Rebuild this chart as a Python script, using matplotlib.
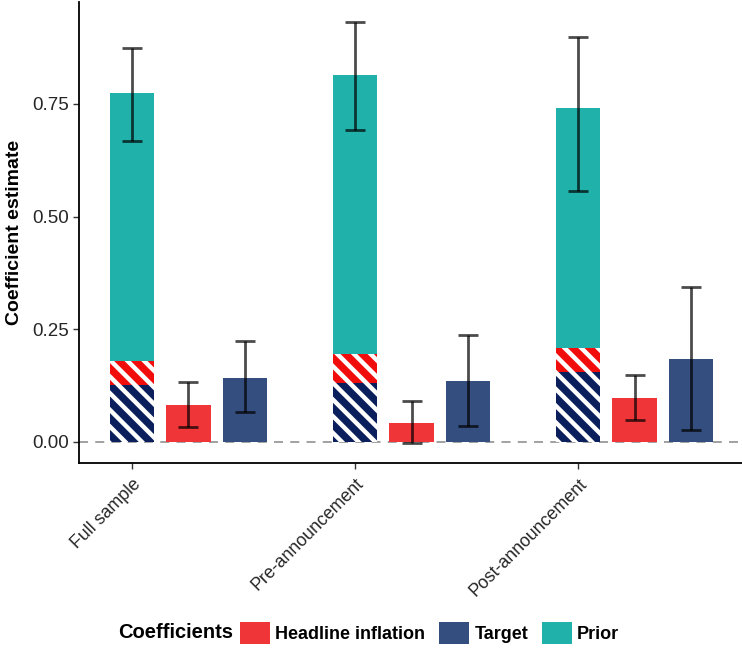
import matplotlib
matplotlib.use("Agg")
import matplotlib.pyplot as plt
import numpy as np
from matplotlib.patches import Patch

plt.rcParams['font.family'] = ['Liberation Sans', 'DejaVu Sans']
plt.rcParams['hatch.linewidth'] = 3.2

categories = ["Full sample", "Pre-announcement", "Post-announcement"]

# stacked bar components (cumulative tops)
stack_target = [0.126, 0.130, 0.155]
stack_headline = [0.054, 0.065, 0.053]
stack_prior = [0.595, 0.619, 0.532]
prior_lo = [0.668, 0.692, 0.557]
prior_hi = [0.873, 0.931, 0.898]

# separate bars
headline = [0.082, 0.043, 0.098]
headline_lo = [0.033, -0.003, 0.048]
headline_hi = [0.132, 0.092, 0.149]
target = [0.143, 0.135, 0.184]
target_lo = [0.066, 0.035, 0.027]
target_hi = [0.225, 0.237, 0.343]

yticks = [0.00, 0.25, 0.50, 0.75]
ytick_labels = ["0.00", "0.25", "0.50", "0.75"]

c_red = "#F03538"
c_navy = "#344E80"
c_teal = "#20B2AA"
c_hnavy = "#0A1F5C"
c_hred = "#F20D0D"

fig = plt.figure(figsize=(7.42, 6.48), dpi=100)
ax = fig.add_axes([79 / 742, 1 - 463 / 648, 1 - 79 / 742, (463 - 2) / 648])

x = np.arange(len(categories))
w = 0.2
off_r = 0.253
off_n = 0.506

ax.axhline(0, color="#9a9a9a", lw=1.3, ls=(0, (5, 4)), zorder=1)

ax.bar(x, stack_target, w, color=c_hnavy, edgecolor="white", hatch="\\\\", linewidth=0, zorder=2)
ax.bar(x, stack_headline, w, bottom=stack_target, color=c_hred, edgecolor="white", hatch="\\\\", linewidth=0, zorder=2)
bot2 = np.array(stack_target) + np.array(stack_headline)
ax.bar(x, stack_prior, w, bottom=bot2, color=c_teal, linewidth=0, zorder=2)
ptop = bot2 + np.array(stack_prior)

ax.bar(x + off_r, headline, w, color=c_red, linewidth=0, zorder=2)
ax.bar(x + off_n, target, w, color=c_navy, linewidth=0, zorder=2)

ekw = dict(fmt="none", ecolor="black", alpha=0.7, elinewidth=2, capsize=7.5, capthick=2, zorder=3)
ax.errorbar(x, ptop, yerr=[ptop - np.array(prior_lo), np.array(prior_hi) - ptop], **ekw)
h = np.array(headline)
ax.errorbar(x + off_r, h, yerr=[h - np.array(headline_lo), np.array(headline_hi) - h], **ekw)
t = np.array(target)
ax.errorbar(x + off_n, t, yerr=[t - np.array(target_lo), np.array(target_hi) - t], **ekw)

ax.set_xlim(-0.238, 2.735)
ax.set_ylim(-0.0466, 0.976)
ax.set_yticks(yticks)
ax.set_yticklabels(ytick_labels, fontsize=13.5, color="#262626")
ax.set_xticks(x)
ax.set_xticklabels(categories, fontsize=12.8, color="#262626", rotation=45, ha="right", va="top",
                   rotation_mode="anchor")
ax.tick_params(axis="both", length=4, width=1, color="#333333")
ax.tick_params(axis="x", pad=5)
ax.tick_params(axis="y", pad=3)
for s in ["top", "right"]:
    ax.spines[s].set_visible(False)
for s in ["left", "bottom"]:
    ax.spines[s].set_linewidth(1.3)
    ax.spines[s].set_color("black")
ax.set_ylabel("Coefficient estimate", fontsize=14, fontweight="bold", labelpad=7)

handles = [Patch(facecolor=c_red, label="Headline inflation"),
           Patch(facecolor=c_navy, label="Target"),
           Patch(facecolor=c_teal, label="Prior")]
fig.text(118 / 742, 1 - 632 / 648, "Coefficients", fontsize=14.5, fontweight="bold", va="center", ha="left")
leg = fig.legend(handles=handles, loc="center left", bbox_to_anchor=(240 / 742, 1 - 633 / 648), ncol=3,
                 frameon=False, fontsize=13, handlelength=1.66, handleheight=1.55, handletextpad=0.3,
                 columnspacing=0.75, borderaxespad=0, borderpad=0)
for txt in leg.get_texts():
    txt.set_fontweight("bold")

fig.savefig("out.png", dpi=100)
